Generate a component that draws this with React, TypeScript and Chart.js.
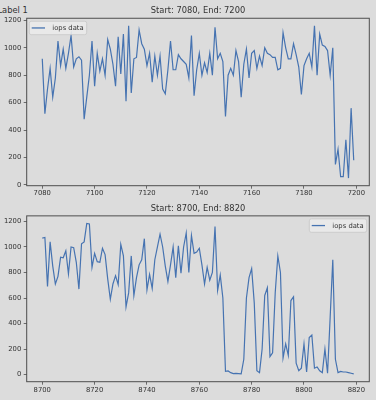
import React, { useEffect, useRef } from 'react';
import { Chart, registerables } from 'chart.js';

Chart.register(...registerables);

// ---------- data ----------
const figureLabel = 'Label 1';
const seriesLabel = 'iops data';

const topStart = 7080;
const topTitle = 'Start: 7080, End: 7200';
const topIops = [
  920, 520, 700, 850, 640, 780, 1050, 870, 990, 850,
  960, 1090, 860, 920, 935, 910, 480, 640, 800, 1050,
  720, 960, 830, 920, 800, 1060, 990, 880, 720, 1080,
  810, 1100, 610, 1160, 670, 920, 930, 1130, 1030, 990,
  870, 960, 750, 940, 800, 940, 700, 665, 840, 1050,
  840, 840, 950, 920, 900, 880, 780, 1090, 650, 840,
  960, 800, 890, 820, 960, 800, 1150, 920, 960, 900,
  500, 800, 850, 800, 980, 900, 640, 880, 990, 780,
  960, 980, 850, 940, 870, 1000, 960, 950, 930, 930,
  840, 850, 1110, 1000, 920, 920, 1030, 950, 860, 660,
  870, 920, 960, 860, 1160, 800, 1100, 1020, 1010, 980,
  800, 1000, 150, 260, 60, 60, 330, 50, 560, 180,
];
const topXTicks = [7080, 7100, 7120, 7140, 7160, 7180, 7200];

const bottomStart = 8700;
const bottomTitle = 'Start: 8700, End: 8820';
const bottomIops = [
  1070, 1075, 690, 1040, 850, 710, 770, 920, 915, 970,
  790, 1000, 995, 880, 670, 1025, 1040, 1185, 1180, 840,
  950, 885, 880, 990, 940, 750, 590, 710, 775, 705,
  1020, 930, 530, 640, 930, 620, 760, 860, 900, 1065,
  665, 785, 675, 900, 1000, 1100, 1000, 850, 730, 860,
  1000, 760, 1010, 795, 1000, 1110, 800, 1090, 950, 960,
  990, 860, 710, 840, 740, 800, 1160, 660, 780, 600,
  25, 28, 15, 8, 10, 8, 5, 120, 600, 760,
  830, 560, 30, 15, 200, 620, 680, 140, 170, 640,
  930, 800, 130, 240, 150, 580, 610, 90, 30, 50,
  240, 20, 290, 310, 50, 60, 30, 15, 200, 10,
  450, 900, 120, 15, 25, 20, 20, 15, 10, 5,
];
const bottomXTicks = [8700, 8720, 8740, 8760, 8780, 8800, 8820];

const yTicks = [0, 200, 400, 600, 800, 1000, 1200];

// ---------- style ----------
const fontFamily = '"DejaVu Sans", sans-serif';
const bgColor = '#dcdcdc';
const textColor = '#333333';
const frameColor = '#4e4e4e';
const lineColor = '#4673b1';
const tickFont = 6.8;
const titleFont = 8.3;

const frameLegendPlugin = {
  id: 'frameLegend',
  afterDraw(chart: any, _args: any, opts: any) {
    const { ctx, chartArea: a } = chart;
    ctx.save();
    ctx.strokeStyle = frameColor;
    ctx.lineWidth = 1;
    ctx.strokeRect(a.left, a.top, a.right - a.left, a.bottom - a.top);

    const label = chart.data.datasets[0].label as string;
    ctx.font = `${tickFont}px ${fontFamily}`;
    const tw = ctx.measureText(label).width;
    const w = 2.4 + 13.3 + 7.3 + tw + 3;
    const h = 13.4;
    const x0 = opts.corner === 'right' ? a.right - 2.6 - w : a.left + 2.6;
    const y0 = a.top + 3;
    ctx.beginPath();
    (ctx as any).roundRect(x0, y0, w, h, 2);
    ctx.fillStyle = 'rgba(236,236,236,0.8)';
    ctx.fill();
    ctx.strokeStyle = '#c6c6c6';
    ctx.lineWidth = 0.8;
    ctx.stroke();

    ctx.beginPath();
    ctx.strokeStyle = lineColor;
    ctx.lineWidth = 1.3;
    ctx.moveTo(x0 + 2.4, y0 + h / 2);
    ctx.lineTo(x0 + 15.7, y0 + h / 2);
    ctx.stroke();

    ctx.fillStyle = textColor;
    ctx.textBaseline = 'middle';
    ctx.textAlign = 'left';
    ctx.fillText(label, x0 + 23, y0 + h / 2 + 0.5);
    ctx.restore();
  },
};

type Panel = {
  title: string;
  start: number;
  values: number[];
  xTicks: number[];
  xMin: number;
  xMax: number;
  yMin: number;
  yMax: number;
  titleTop: number;
  titleBottom: number;
  xAxisHeight: number;
  xTickPad: number;
  corner: 'left' | 'right';
};

function makeConfig(p: Panel): any {
  const pts = p.values.map((v, i) => ({ x: p.start + i, y: v }));
  const tickStyle = {
    color: textColor,
    font: { family: fontFamily, size: tickFont },
    autoSkip: false,
    maxRotation: 0,
    callback: (v: any) => String(v),
  };
  const grid = {
    display: true,
    drawOnChartArea: false,
    drawTicks: true,
    tickLength: 3,
    color: frameColor,
    lineWidth: 0.8,
  };
  return {
    type: 'line',
    data: {
      datasets: [
        {
          label: seriesLabel,
          data: pts,
          borderColor: lineColor,
          borderWidth: 1.2,
          pointRadius: 0,
          tension: 0,
          fill: false,
        },
      ],
    },
    options: {
      animation: false,
      responsive: false,
      maintainAspectRatio: false,
      devicePixelRatio: 1,
      layout: { padding: { left: 0, right: 6.7, top: 0, bottom: 0 } },
      plugins: {
        legend: { display: false },
        tooltip: { enabled: false },
        title: {
          display: true,
          text: p.title,
          fullSize: false,
          color: textColor,
          font: { family: fontFamily, size: titleFont, weight: 'normal', lineHeight: 1.2 },
          padding: { top: p.titleTop, bottom: p.titleBottom },
        },
        frameLegend: { corner: p.corner },
      },
      scales: {
        x: {
          type: 'linear',
          min: p.xMin,
          max: p.xMax,
          afterBuildTicks: (s: any) => {
            s.ticks = p.xTicks.map((v) => ({ value: v }));
          },
          afterFit: (s: any) => {
            s.height = p.xAxisHeight;
          },
          grid,
          border: { display: false },
          ticks: { ...tickStyle, padding: p.xTickPad },
        },
        y: {
          type: 'linear',
          min: p.yMin,
          max: p.yMax,
          afterBuildTicks: (s: any) => {
            s.ticks = yTicks.map((v) => ({ value: v }));
          },
          afterFit: (s: any) => {
            s.width = 26.7;
          },
          grid,
          border: { display: false },
          ticks: { ...tickStyle, padding: 2.5 },
        },
      },
    },
    plugins: [frameLegendPlugin],
  };
}

const topPanel: Panel = {
  title: topTitle,
  start: topStart,
  values: topIops,
  xTicks: topXTicks,
  xMin: 7074.05,
  xMax: 7204.95,
  yMin: -5.5,
  yMax: 1215.5,
  titleTop: 6,
  titleBottom: 2.3,
  xAxisHeight: 14.3,
  xTickPad: 0,
  corner: 'left',
};

const bottomPanel: Panel = {
  title: bottomTitle,
  start: bottomStart,
  values: bottomIops,
  xTicks: bottomXTicks,
  xMin: 8694.05,
  xMax: 8824.95,
  yMin: -56,
  yMax: 1244,
  titleTop: 4,
  titleBottom: 1.9,
  xAxisHeight: 18.3,
  xTickPad: 1,
  corner: 'right',
};

function PanelChart({ panel, top }: { panel: Panel; top: number }) {
  const ref = useRef<HTMLCanvasElement | null>(null);
  useEffect(() => {
    if (!ref.current) return;
    const chart = new Chart(ref.current, makeConfig(panel));
    return () => chart.destroy();
  }, [panel]);
  return (
    <canvas
      ref={ref}
      width={376}
      height={200}
      style={{ position: 'absolute', left: 0, top, width: 376, height: 200 }}
    />
  );
}

export default function App() {
  return (
    <div
      style={{
        position: 'fixed',
        left: 0,
        top: 0,
        width: 376,
        height: 400,
        background: bgColor,
        overflow: 'hidden',
      }}
    >
      <div
        style={{
          position: 'absolute',
          left: -2.5,
          top: 4,
          fontFamily,
          fontSize: titleFont,
          lineHeight: '12px',
          color: textColor,
          whiteSpace: 'nowrap',
        }}
      >
        {figureLabel}
      </div>
      <PanelChart panel={topPanel} top={0} />
      <PanelChart panel={bottomPanel} top={200} />
    </div>
  );
}
